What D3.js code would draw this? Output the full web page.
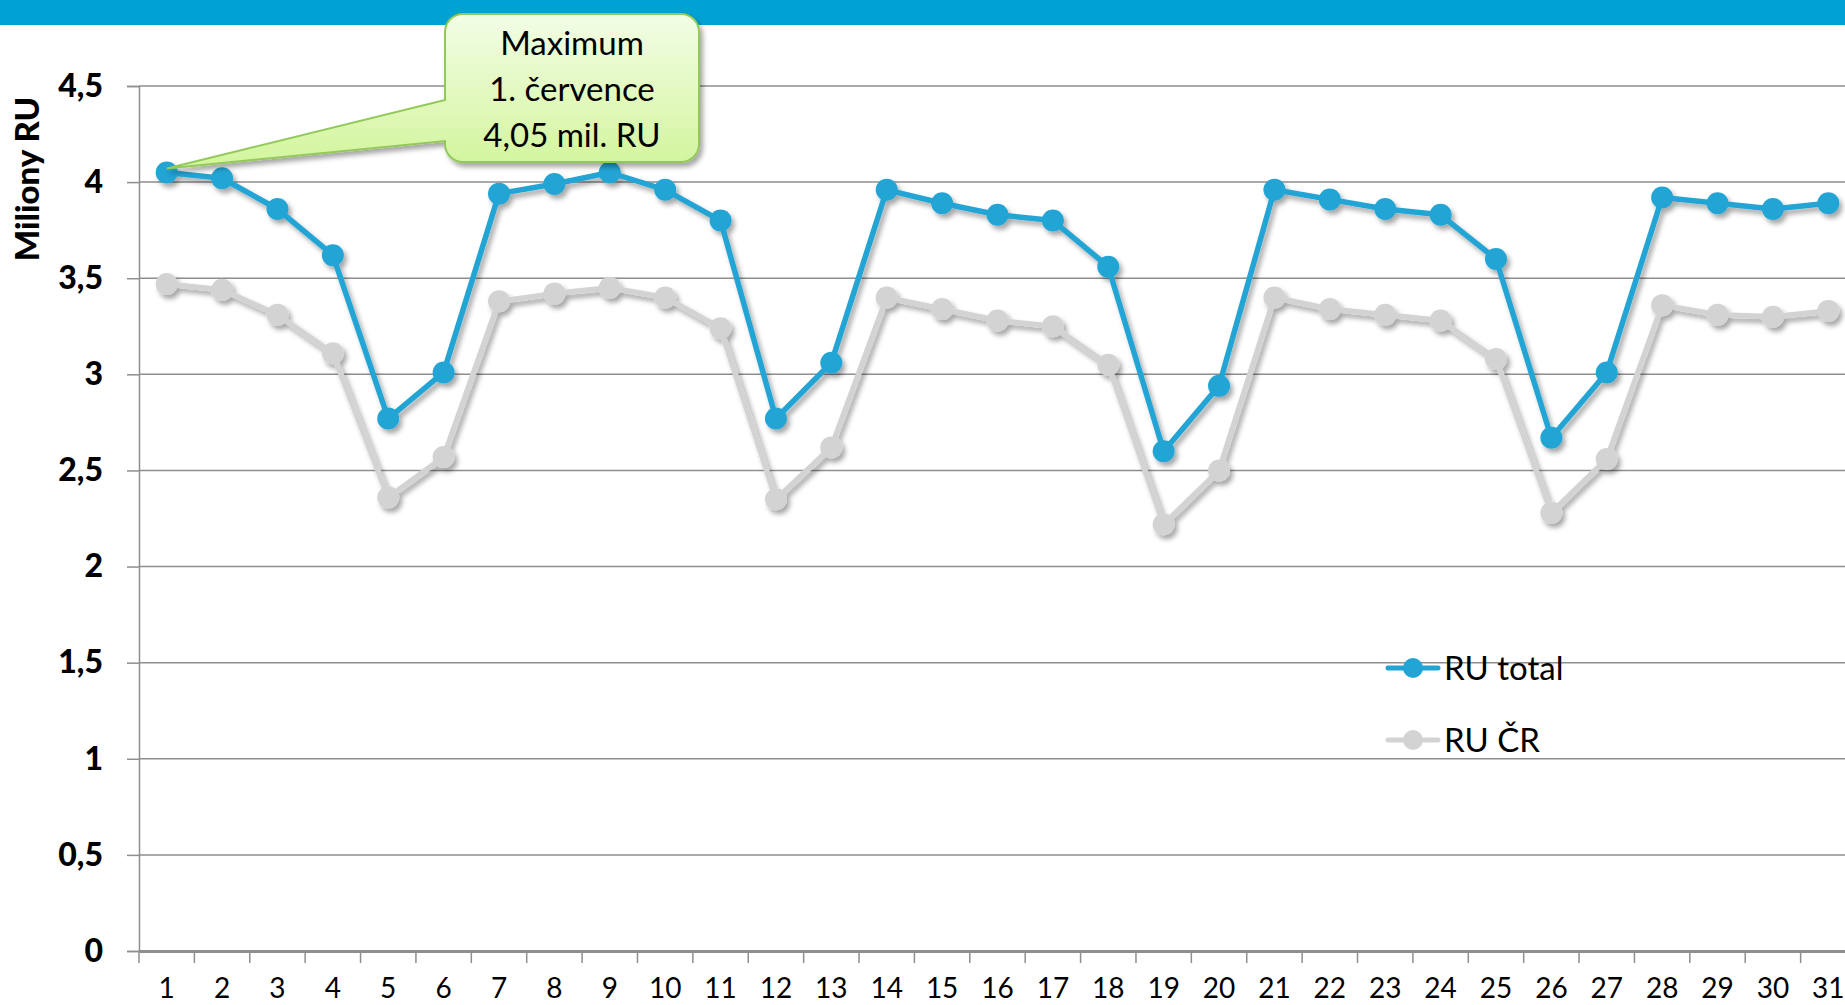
<!DOCTYPE html>
<html>
<head>
<meta charset="utf-8">
<script src="https://cdn.jsdelivr.net/npm/d3@7/dist/d3.min.js"></script>
<style>
body { margin: 0; background: #fff; }
svg { display: block; }
.tick text { fill: #000; }
</style>
</head>
<body>
<svg id="chart" width="1845" height="1005"></svg>
<script>
var days = d3.range(1, 32);
var ruTotal = [4.05, 4.02, 3.86, 3.62, 2.77, 3.01, 3.94, 3.99, 4.05, 3.96, 3.80,
               2.77, 3.06, 3.96, 3.89, 3.83, 3.80, 3.56, 2.60, 2.94, 3.96, 3.91,
               3.86, 3.83, 3.60, 2.67, 3.01, 3.92, 3.89, 3.86, 3.89];
var ruCR = [3.47, 3.44, 3.31, 3.11, 2.36, 2.57, 3.38, 3.42, 3.45, 3.40, 3.24,
            2.35, 2.62, 3.40, 3.34, 3.28, 3.25, 3.05, 2.22, 2.50, 3.40, 3.34,
            3.31, 3.28, 3.08, 2.28, 2.56, 3.36, 3.31, 3.30, 3.33];
var yTicks = [0, 0.5, 1, 1.5, 2, 2.5, 3, 3.5, 4, 4.5];
var callout = ["Maximum", "1. července", "4,05 mil. RU"];

function drawChart() {
    var svg = d3.select("#chart"),
        width = +svg.attr("width"),
        height = +svg.attr("height");

    var left = 139, right = 1856, top = 86, bottom = 951;
    var font = "Lato, 'Open Sans', sans-serif";

    var defs = svg.append("defs");
    var shadow = defs.append("filter").attr("id", "shadow")
        .attr("x", "-20%").attr("y", "-20%").attr("width", "140%").attr("height", "140%");
    shadow.append("feDropShadow")
        .attr("dx", 3).attr("dy", 4).attr("stdDeviation", 2.5)
        .attr("flood-color", "#000").attr("flood-opacity", 0.35);

    var grad = defs.append("linearGradient").attr("id", "green")
        .attr("x1", 0).attr("y1", 0).attr("x2", 0).attr("y2", 1);
    grad.append("stop").attr("offset", "0%").attr("stop-color", "#f3fde6");
    grad.append("stop").attr("offset", "100%").attr("stop-color", "#d2f59c");

    // top bar
    svg.append("rect")
        .attr("x", 0).attr("y", 0).attr("width", width).attr("height", 25)
        .attr("fill", "#00a2d3");

    var x = d3.scaleBand().domain(days).range([left, right]);
    var y = d3.scaleLinear().domain([0, 4.5]).range([bottom, top]);

    // grid
    svg.append("g").selectAll("line")
        .data(yTicks.filter(function(d) { return d > 0; }))
        .enter().append("line")
        .attr("x1", left).attr("x2", width)
        .attr("y1", function(d) { return y(d); })
        .attr("y2", function(d) { return y(d); })
        .attr("stroke", "#8e8e8e").attr("stroke-width", 1.5);

    // y axis
    var yAxis = svg.append("g")
        .attr("transform", "translate(" + left + ",0)")
        .call(d3.axisLeft(y).tickValues(yTicks).tickSize(12).tickPadding(24)
            .tickFormat(function(d) { return String(d).replace(".", ","); }));
    yAxis.selectAll("line, path").attr("stroke", "#8e8e8e").attr("stroke-width", 1.5);
    yAxis.selectAll("text")
        .attr("font-family", font)
        .attr("font-weight", 900).attr("font-size", 32);

    // x axis
    var xAxis = svg.append("g")
        .attr("transform", "translate(0," + bottom + ")")
        .call(d3.axisBottom(x).tickSize(0).tickPadding(27));
    xAxis.select("path").attr("stroke", "#8e8e8e").attr("stroke-width", 3);
    xAxis.selectAll("text")
        .attr("font-family", font)
        .attr("font-size", 28);
    xAxis.append("g").selectAll("line")
        .data(days)
        .enter().append("line")
        .attr("x1", function(d) { return x(d); })
        .attr("x2", function(d) { return x(d); })
        .attr("y1", 0).attr("y2", 12)
        .attr("stroke", "#8e8e8e").attr("stroke-width", 1.5);

    // y title
    svg.append("text")
        .attr("transform", "translate(39,179) rotate(-90)")
        .attr("text-anchor", "middle")
        .attr("font-family", font)
        .attr("font-weight", 900).attr("font-size", 33)
        .text("Miliony RU");

    var cx = function(d, i) { return x(days[i]) + x.bandwidth() / 2; };
    var line = d3.line()
        .x(function(d, i) { return cx(d, i); })
        .y(function(d) { return y(d); });

    var series = [
        { name: "RU ČR", values: ruCR, color: "#d3d3d3" },
        { name: "RU total", values: ruTotal, color: "#22a4d4" }
    ];

    series.forEach(function(s) {
        var g = svg.append("g").attr("filter", "url(#shadow)");
        g.append("path")
            .datum(s.values)
            .attr("d", line)
            .attr("fill", "none")
            .attr("stroke", s.color)
            .attr("stroke-width", 5.5)
            .attr("stroke-linejoin", "round");
        g.selectAll("circle")
            .data(s.values)
            .enter().append("circle")
            .attr("cx", function(d, i) { return cx(d, i); })
            .attr("cy", function(d) { return y(d); })
            .attr("r", 11)
            .attr("fill", s.color);
    });

    // legend
    var legend = svg.append("g");
    [{ s: series[1], ly: 668 }, { s: series[0], ly: 740 }].forEach(function(l) {
        legend.append("line")
            .attr("x1", 1388).attr("x2", 1438)
            .attr("y1", l.ly).attr("y2", l.ly)
            .attr("stroke", l.s.color).attr("stroke-width", 5)
            .attr("stroke-linecap", "round");
        legend.append("circle")
            .attr("cx", 1413).attr("cy", l.ly).attr("r", 10)
            .attr("fill", l.s.color);
        legend.append("text")
            .attr("x", 1444).attr("y", l.ly)
            .attr("dy", "0.35em")
            .attr("font-family", font)
            .attr("font-size", 33)
            .text(l.s.name);
    });

    // callout
    var maxI = ruTotal.indexOf(d3.max(ruTotal));
    var px = cx(ruTotal[maxI], maxI), py = y(ruTotal[maxI]);
    var bx = 445, by = 14, bw = 254, bh = 148, r = 18;
    var p = d3.path();
    p.moveTo(bx + r, by);
    p.lineTo(bx + bw - r, by);
    p.arcTo(bx + bw, by, bx + bw, by + r, r);
    p.lineTo(bx + bw, by + bh - r);
    p.arcTo(bx + bw, by + bh, bx + bw - r, by + bh, r);
    p.lineTo(bx + r, by + bh);
    p.arcTo(bx, by + bh, bx, by + bh - r, r);
    p.lineTo(bx, 141);
    p.lineTo(px, py - 4);
    p.lineTo(bx, 100);
    p.lineTo(bx, by + r);
    p.arcTo(bx, by, bx + r, by, r);
    p.closePath();
    svg.append("path")
        .attr("d", p.toString())
        .attr("fill", "url(#green)")
        .attr("stroke", "#93c95a").attr("stroke-width", 2)
        .attr("filter", "url(#shadow)");
    svg.append("g").selectAll("text")
        .data(callout)
        .enter().append("text")
        .attr("x", bx + bw / 2)
        .attr("y", function(d, i) { return 43 + i * 46; })
        .attr("dy", "0.35em")
        .attr("text-anchor", "middle")
        .attr("font-family", font)
        .attr("font-size", 33)
        .text(function(d) { return d; });
}

drawChart();
</script>
</body>
</html>
